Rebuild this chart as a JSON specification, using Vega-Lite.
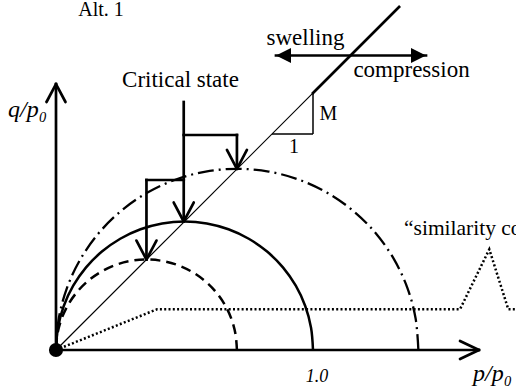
{
  "$schema": "https://vega.github.io/schema/vega-lite/v6.json",
  "width": 516,
  "height": 389,
  "autosize": {"type": "none"},
  "padding": 0,
  "background": "white",
  "config": {"view": {"stroke": null}},
  "datasets": {
    "shafts": [
      {"x": 0, "y": 0, "x2": 0, "y2": 1.035},
      {"x": 0, "y": 0, "x2": 1.6459, "y2": 0},
      {"x": 0.497, "y": 0.965, "x2": 0.497, "y2": 0.5},
      {"x": 0.497, "y": 0.8366, "x2": 0.704, "y2": 0.8366},
      {"x": 0.704, "y": 0.8366, "x2": 0.704, "y2": 0.705},
      {"x": 0.497, "y": 0.6615, "x2": 0.352, "y2": 0.6615},
      {"x": 0.352, "y": 0.6615, "x2": 0.352, "y2": 0.352},
      {"x": 0.856, "y": 1.1459, "x2": 1.4397, "y2": 1.1459},
      {"x": 1.0, "y": 1.0, "x2": 1.335, "y2": 1.335}
    ],
    "arms": [
      {"x": -0.037, "y": 0.965, "x2": 0, "y2": 1.035},
      {"x": 0.037, "y": 0.965, "x2": 0, "y2": 1.035},
      {"x": 1.572, "y": 0.035, "x2": 1.6459, "y2": 0},
      {"x": 1.572, "y": -0.035, "x2": 1.6459, "y2": 0},
      {"x": 0.4581, "y": 0.5739, "x2": 0.497, "y2": 0.5},
      {"x": 0.5359, "y": 0.5739, "x2": 0.497, "y2": 0.5},
      {"x": 0.6651, "y": 0.7789, "x2": 0.704, "y2": 0.705},
      {"x": 0.7429, "y": 0.7789, "x2": 0.704, "y2": 0.705},
      {"x": 0.3131, "y": 0.4259, "x2": 0.352, "y2": 0.352},
      {"x": 0.3909, "y": 0.4259, "x2": 0.352, "y2": 0.352}
    ],
    "thin": [
      {"x": 0, "y": 0, "x2": 1.335, "y2": 1.335}
    ],
    "slope": [
      {"x": 0.8405, "y": 0.8405, "x2": 1.0, "y2": 0.8405},
      {"x": 1.0, "y": 0.8405, "x2": 1.0, "y2": 1.0}
    ],
    "curves": [
      {"c": "s", "i": 0, "x": 1.0, "y": 0},
      {"c": "s", "i": 1, "x": 0.9924, "y": 0.0868},
      {"c": "s", "i": 2, "x": 0.9698, "y": 0.171},
      {"c": "s", "i": 3, "x": 0.933, "y": 0.25},
      {"c": "s", "i": 4, "x": 0.883, "y": 0.3214},
      {"c": "s", "i": 5, "x": 0.8214, "y": 0.383},
      {"c": "s", "i": 6, "x": 0.75, "y": 0.433},
      {"c": "s", "i": 7, "x": 0.671, "y": 0.4698},
      {"c": "s", "i": 8, "x": 0.5868, "y": 0.4924},
      {"c": "s", "i": 9, "x": 0.5, "y": 0.5},
      {"c": "s", "i": 10, "x": 0.4132, "y": 0.4924},
      {"c": "s", "i": 11, "x": 0.329, "y": 0.4698},
      {"c": "s", "i": 12, "x": 0.25, "y": 0.433},
      {"c": "s", "i": 13, "x": 0.1786, "y": 0.383},
      {"c": "s", "i": 14, "x": 0.117, "y": 0.3214},
      {"c": "s", "i": 15, "x": 0.067, "y": 0.25},
      {"c": "s", "i": 16, "x": 0.0302, "y": 0.171},
      {"c": "s", "i": 17, "x": 0.0076, "y": 0.0868},
      {"c": "s", "i": 18, "x": 0, "y": 0},
      {"c": "d", "i": 0, "x": 0.704, "y": 0},
      {"c": "d", "i": 1, "x": 0.6986, "y": 0.0611},
      {"c": "d", "i": 2, "x": 0.6828, "y": 0.1204},
      {"c": "d", "i": 3, "x": 0.6568, "y": 0.176},
      {"c": "d", "i": 4, "x": 0.6216, "y": 0.2263},
      {"c": "d", "i": 5, "x": 0.5783, "y": 0.2696},
      {"c": "d", "i": 6, "x": 0.528, "y": 0.3048},
      {"c": "d", "i": 7, "x": 0.4724, "y": 0.3308},
      {"c": "d", "i": 8, "x": 0.4131, "y": 0.3466},
      {"c": "d", "i": 9, "x": 0.352, "y": 0.352},
      {"c": "d", "i": 10, "x": 0.2909, "y": 0.3466},
      {"c": "d", "i": 11, "x": 0.2316, "y": 0.3308},
      {"c": "d", "i": 12, "x": 0.176, "y": 0.3048},
      {"c": "d", "i": 13, "x": 0.1257, "y": 0.2696},
      {"c": "d", "i": 14, "x": 0.0824, "y": 0.2263},
      {"c": "d", "i": 15, "x": 0.0472, "y": 0.176},
      {"c": "d", "i": 16, "x": 0.0212, "y": 0.1204},
      {"c": "d", "i": 17, "x": 0.0054, "y": 0.0611},
      {"c": "d", "i": 18, "x": 0, "y": 0},
      {"c": "m", "i": 0, "x": 1.41, "y": 0},
      {"c": "m", "i": 1, "x": 1.3993, "y": 0.1224},
      {"c": "m", "i": 2, "x": 1.3675, "y": 0.2411},
      {"c": "m", "i": 3, "x": 1.3155, "y": 0.3525},
      {"c": "m", "i": 4, "x": 1.245, "y": 0.4532},
      {"c": "m", "i": 5, "x": 1.1582, "y": 0.54},
      {"c": "m", "i": 6, "x": 1.0575, "y": 0.6105},
      {"c": "m", "i": 7, "x": 0.9461, "y": 0.6625},
      {"c": "m", "i": 8, "x": 0.8274, "y": 0.6943},
      {"c": "m", "i": 9, "x": 0.705, "y": 0.705},
      {"c": "m", "i": 10, "x": 0.5826, "y": 0.6943},
      {"c": "m", "i": 11, "x": 0.4639, "y": 0.6625},
      {"c": "m", "i": 12, "x": 0.3525, "y": 0.6105},
      {"c": "m", "i": 13, "x": 0.2518, "y": 0.54},
      {"c": "m", "i": 14, "x": 0.165, "y": 0.4532},
      {"c": "m", "i": 15, "x": 0.0945, "y": 0.3525},
      {"c": "m", "i": 16, "x": 0.0425, "y": 0.2411},
      {"c": "m", "i": 17, "x": 0.0107, "y": 0.1224},
      {"c": "m", "i": 18, "x": 0, "y": 0}
    ],
    "dotted": [
      {"i": 0, "x": 0, "y": 0},
      {"i": 1, "x": 0.393, "y": 0.1584},
      {"i": 2, "x": 1.572, "y": 0.1584},
      {"i": 3, "x": 1.686, "y": 0.3918},
      {"i": 4, "x": 1.7599, "y": 0.1584},
      {"i": 5, "x": 1.7899, "y": 0.1584}
    ]
  },
  "encoding": {
    "x": {"field": "x", "type": "quantitative", "scale": {"domain": [-0.2179, 1.7899], "nice": false, "zero": false}, "axis": null},
    "y": {"field": "y", "type": "quantitative", "scale": {"domain": [-0.1518, 1.3619], "nice": false, "zero": false}, "axis": null}
  },
  "layer": [
    {
      "data": {"name": "dotted"},
      "mark": {"type": "line", "color": "black", "strokeWidth": 2.5, "strokeDash": [2, 2.3], "clip": true},
      "encoding": {"order": {"field": "i", "type": "quantitative"}}
    },
    {
      "data": {"name": "curves"},
      "transform": [{"filter": "datum.c === 's'"}],
      "mark": {"type": "line", "color": "black", "strokeWidth": 2.5, "interpolate": "catmull-rom"},
      "encoding": {"order": {"field": "i", "type": "quantitative"}}
    },
    {
      "data": {"name": "curves"},
      "transform": [{"filter": "datum.c === 'd'"}],
      "mark": {"type": "line", "color": "black", "strokeWidth": 2.5, "strokeDash": [10, 6], "interpolate": "catmull-rom"},
      "encoding": {"order": {"field": "i", "type": "quantitative"}}
    },
    {
      "data": {"name": "curves"},
      "transform": [{"filter": "datum.c === 'm'"}],
      "mark": {"type": "line", "color": "black", "strokeWidth": 2.3, "strokeDash": [16, 5, 2, 5], "interpolate": "catmull-rom"},
      "encoding": {"order": {"field": "i", "type": "quantitative"}}
    },
    {
      "data": {"name": "thin"},
      "mark": {"type": "rule", "color": "black", "strokeWidth": 1.2},
      "encoding": {"x2": {"field": "x2"}, "y2": {"field": "y2"}}
    },
    {
      "data": {"name": "slope"},
      "mark": {"type": "rule", "color": "black", "strokeWidth": 1.5},
      "encoding": {"x2": {"field": "x2"}, "y2": {"field": "y2"}}
    },
    {
      "data": {"name": "shafts"},
      "mark": {"type": "rule", "color": "black", "strokeWidth": 2.7, "strokeCap": "square"},
      "encoding": {"x2": {"field": "x2"}, "y2": {"field": "y2"}}
    },
    {
      "data": {"name": "arms"},
      "mark": {"type": "rule", "color": "black", "strokeWidth": 2.7, "strokeCap": "round"},
      "encoding": {"x2": {"field": "x2"}, "y2": {"field": "y2"}}
    },
    {
      "data": {"values": [{"x": 0, "y": 0}]},
      "mark": {"type": "point", "shape": "circle", "filled": true, "color": "black", "size": 200, "opacity": 1}
    },
    {
      "data": {"values": [{"x": 0.856, "y": 1.1459}]},
      "mark": {"type": "point", "shape": "M0,0L2,-1L2,1Z", "filled": true, "color": "black", "size": 225, "opacity": 1}
    },
    {
      "data": {"values": [{"x": 1.4397, "y": 1.1459}]},
      "mark": {"type": "point", "shape": "M0,0L-2,-1L-2,1Z", "filled": true, "color": "black", "size": 225, "opacity": 1}
    },
    {
      "data": {"values": [
        {"x": 0.1751, "y": 1.2996, "t": "Alt. 1"}
      ]},
      "mark": {"type": "text", "font": "Liberation Serif", "fontSize": 20, "align": "center", "baseline": "alphabetic", "color": "black"},
      "encoding": {"text": {"field": "t"}}
    },
    {
      "data": {"values": [
        {"x": 0.4844, "y": 1.0253, "t": "Critical state"},
        {"x": 0.9708, "y": 1.1868, "t": "swelling"},
        {"x": 1.3833, "y": 1.0623, "t": "compression"}
      ]},
      "mark": {"type": "text", "font": "Liberation Serif", "fontSize": 23, "align": "center", "baseline": "alphabetic", "color": "black"},
      "encoding": {"text": {"field": "t"}}
    },
    {
      "data": {"values": [
        {"x": 1.0603, "y": 0.8949, "t": "M"},
        {"x": 0.9261, "y": 0.7665, "t": "1"}
      ]},
      "mark": {"type": "text", "font": "Liberation Serif", "fontSize": 20, "align": "center", "baseline": "alphabetic", "color": "black"},
      "encoding": {"text": {"field": "t"}}
    },
    {
      "data": {"values": [
        {"x": 1.3541, "y": 0.4475, "t": "“similarity condition”"}
      ]},
      "mark": {"type": "text", "font": "Liberation Serif", "fontSize": 21.5, "align": "left", "baseline": "alphabetic", "color": "black", "clip": true},
      "encoding": {"text": {"field": "t"}}
    },
    {
      "data": {"values": [
        {"x": -0.1868, "y": 0.9066, "t": "q/p₀"},
        {"x": 1.6226, "y": -0.1206, "t": "p/p₀"}
      ]},
      "mark": {"type": "text", "font": "Liberation Serif", "fontSize": 24, "fontStyle": "italic", "align": "left", "baseline": "alphabetic", "color": "black", "clip": true},
      "encoding": {"text": {"field": "t"}}
    },
    {
      "data": {"values": [
        {"x": 1.0156, "y": -0.1245, "t": "1.0"}
      ]},
      "mark": {"type": "text", "font": "Liberation Serif", "fontSize": 18, "fontStyle": "italic", "align": "center", "baseline": "alphabetic", "color": "black"},
      "encoding": {"text": {"field": "t"}}
    }
  ]
}
